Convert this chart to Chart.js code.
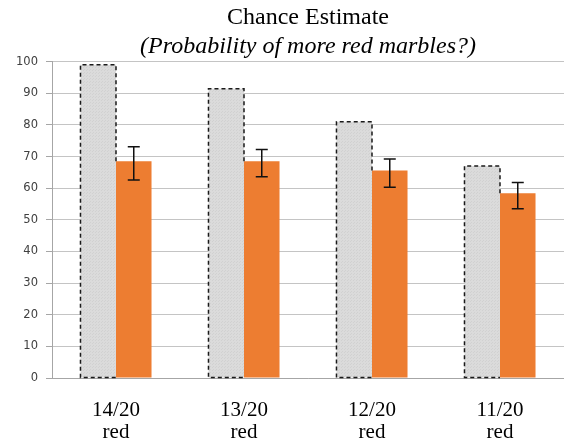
<!DOCTYPE html>
<html>
<head>
<meta charset="utf-8">
<script src="https://cdn.jsdelivr.net/npm/chart.js@4/dist/chart.umd.min.js"></script>
<style>
  html, body { margin: 0; padding: 0; background: #fff; }
  #wrap { width: 564px; height: 444px; }
</style>
</head>
<body>
<div id="wrap"><canvas id="myChart"></canvas></div>
<script>
// chart data
const categories = [['14/20', 'red'], ['13/20', 'red'], ['12/20', 'red'], ['11/20', 'red']]
const trueChance = [99, 91.4, 81, 67]
const estimate = [68.5, 68.5, 65.6, 58.4]
const estimateLow = [62.6, 63.6, 60.3, 53.5]
const estimateHigh = [73.1, 72.2, 69.2, 61.8]
const yTicks = [0, 10, 20, 30, 40, 50, 60, 70, 80, 90, 100]

// light dotted fill for the grey bars
function dotPattern() {
  const c = document.createElement('canvas')
  c.width = 3
  c.height = 3
  const g = c.getContext('2d')
  g.fillStyle = '#dbdbdb'
  g.fillRect(0, 0, 3, 3)
  g.fillStyle = '#d1d1d1'
  g.fillRect(0, 0, 1, 1)
  g.fillRect(2, 1, 1, 1)
  return g.createPattern(c, 'repeat')
}

// dashed outline round the grey bars (right edge only above the orange bar)
const dashedOutline = {
  id: 'dashedOutline',
  afterDatasetsDraw(chart) {
    const grey = chart.getDatasetMeta(0).data
    const orange = chart.getDatasetMeta(1).data
    const ctx = chart.ctx
    ctx.save()
    ctx.setLineDash([4, 3])
    ctx.lineWidth = 1.5
    ctx.strokeStyle = '#1a1a1a'
    grey.forEach((bar, i) => {
      const left = bar.x - bar.width / 2
      const right = bar.x + bar.width / 2
      ctx.beginPath()
      ctx.moveTo(right, orange[i].y)
      ctx.lineTo(right, bar.y)
      ctx.lineTo(left, bar.y)
      ctx.lineTo(left, bar.base)
      ctx.lineTo(right, bar.base)
      ctx.stroke()
    })
    ctx.restore()
  }
}

// error bars on the orange series
const errorBars = {
  id: 'errorBars',
  afterDatasetsDraw(chart) {
    const y = chart.scales.y
    const bars = chart.getDatasetMeta(1).data
    const ctx = chart.ctx
    ctx.save()
    ctx.strokeStyle = '#111'
    ctx.lineWidth = 1.5
    bars.forEach((bar, i) => {
      const top = y.getPixelForValue(estimateHigh[i])
      const bottom = y.getPixelForValue(estimateLow[i])
      ctx.beginPath()
      ctx.moveTo(bar.x, top)
      ctx.lineTo(bar.x, bottom)
      ctx.moveTo(bar.x - 6, top)
      ctx.lineTo(bar.x + 6, top)
      ctx.moveTo(bar.x - 6, bottom)
      ctx.lineTo(bar.x + 6, bottom)
      ctx.stroke()
    })
    ctx.restore()
  }
}

const ctx = document.getElementById('myChart')
new Chart(ctx, {
  type: 'bar',
  data: {
    labels: categories,
    datasets: [{
      label: 'Actual',
      data: trueChance,
      backgroundColor: dotPattern(),
      borderWidth: 0
    }, {
      label: 'Estimate',
      data: estimate,
      backgroundColor: '#ed7d31',
      borderWidth: 0
    }]
  },
  options: {
    responsive: true,
    maintainAspectRatio: false,
    animation: false,
    categoryPercentage: 0.555,
    barPercentage: 1,
    layout: { padding: { left: 0, right: 0, top: 0, bottom: 0 } },
    plugins: {
      legend: { display: false },
      tooltip: { enabled: false },
      title: {
        display: true,
        text: 'Chance Estimate',
        fullSize: false,
        color: '#000',
        font: { family: 'Liberation Serif', size: 24, weight: 'normal', lineHeight: 1.2 },
        padding: { top: 3, bottom: 0 }
      },
      subtitle: {
        display: true,
        text: '(Probability of more red marbles?)',
        fullSize: false,
        color: '#000',
        font: { family: 'Liberation Serif', size: 24, style: 'italic', weight: 'normal', lineHeight: 1.2 },
        padding: { top: 0, bottom: 1 }
      }
    },
    scales: {
      x: {
        afterFit(scale) { scale.height = 66 },
        grid: { display: false, drawTicks: false },
        border: { color: '#a6a6a6', width: 1 },
        ticks: {
          color: '#000',
          padding: 21,
          font: { family: 'Liberation Serif', size: 21, lineHeight: 1.05 }
        }
      },
      y: {
        min: 0,
        max: 100,
        afterFit(scale) { scale.width = 52 },
        afterBuildTicks(scale) { scale.ticks = yTicks.map(v => ({ value: v })) },
        grid: { color: '#c4c4c4', tickLength: 6, tickColor: '#a6a6a6' },
        border: { color: '#a6a6a6', width: 1 },
        ticks: {
          color: '#404040',
          padding: 8,
          font: { family: 'DejaVu Sans', size: 11.5 }
        }
      }
    }
  },
  plugins: [dashedOutline, errorBars]
})
</script>
</body>
</html>
